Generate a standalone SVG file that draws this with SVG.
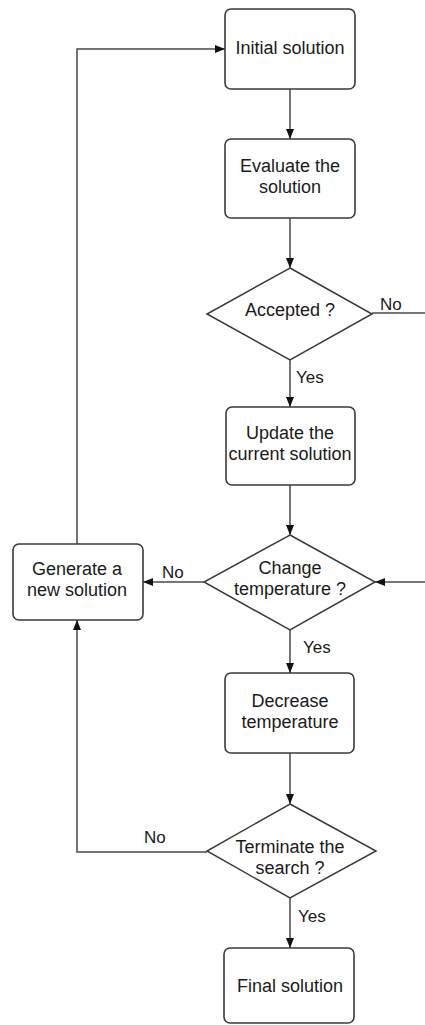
<svg xmlns="http://www.w3.org/2000/svg" width="425" height="1025" viewBox="0 0 425 1025">
<style>
.box{fill:#fff;stroke:#3a3a3a;stroke-width:1.6}
.dia{fill:#fff;stroke:#3a3a3a;stroke-width:1.5}
.t{font-family:"Liberation Sans",Arial,sans-serif;font-size:18px;fill:#1a1a1a;text-anchor:middle}
.l{font-family:"Liberation Sans",Arial,sans-serif;font-size:17px;fill:#1a1a1a}
.c{fill:none;stroke:#4a4a4a;stroke-width:1.5}
</style>
<defs>
<marker id="ah" markerUnits="userSpaceOnUse" markerWidth="10" markerHeight="10" viewBox="0 0 10 10" refX="10" refY="5" orient="auto">
<path d="M0,1 L10,5 L0,9 Z" fill="#111"/>
</marker>
</defs>
<rect width="425" height="1025" fill="#fff"/>
<g id="connectors">
<path class="c" d="M290,89 V139" marker-end="url(#ah)"/>
<path class="c" d="M290,218 V268" marker-end="url(#ah)"/>
<path class="c" d="M290,360 V407" marker-end="url(#ah)"/>
<path class="c" d="M372,313 H425"/>
<path class="c" d="M290,485 V535" marker-end="url(#ah)"/>
<path class="c" d="M425,582 H375" marker-end="url(#ah)"/>
<path class="c" d="M204,582 H143" marker-end="url(#ah)"/>
<path class="c" d="M290,630 V673" marker-end="url(#ah)"/>
<path class="c" d="M290,753 V804" marker-end="url(#ah)"/>
<path class="c" d="M207,852 H77 V620" marker-end="url(#ah)"/>
<path class="c" d="M77,544 V49 H225" marker-end="url(#ah)"/>
<path class="c" d="M290,898 V948" marker-end="url(#ah)"/>
<text class="l" x="380" y="310">No</text>
<text class="l" x="296" y="383">Yes</text>
<text class="l" x="162" y="578">No</text>
<text class="l" x="303" y="653">Yes</text>
<text class="l" x="144" y="843">No</text>
<text class="l" x="298" y="922">Yes</text>
</g>
<g id="initial">
<rect class="box" x="225" y="9" width="130" height="80" rx="6"/>
<text class="t" x="290" y="54">Initial solution</text>
</g>
<g id="evaluate">
<rect class="box" x="225" y="139" width="130" height="79" rx="6"/>
<text class="t" x="290" y="172">Evaluate the</text>
<text class="t" x="290" y="193">solution</text>
</g>
<g id="accepted">
<polygon class="dia" points="290,268 372,314 290,360 207,314"/>
<text class="t" x="290" y="316">Accepted ?</text>
</g>
<g id="update">
<rect class="box" x="226" y="407" width="129" height="78" rx="6"/>
<text class="t" x="290" y="439">Update the</text>
<text class="t" x="290" y="460">current solution</text>
</g>
<g id="change">
<polygon class="dia" points="290,535 375,582 290,630 204,582"/>
<text class="t" x="290" y="574">Change</text>
<text class="t" x="290" y="595">temperature ?</text>
</g>
<g id="generate">
<rect class="box" x="13" y="544" width="130" height="76" rx="6"/>
<text class="t" x="77" y="575">Generate a</text>
<text class="t" x="77" y="596">new solution</text>
</g>
<g id="decrease">
<rect class="box" x="225" y="673" width="129" height="80" rx="6"/>
<text class="t" x="290" y="707">Decrease</text>
<text class="t" x="290" y="728">temperature</text>
</g>
<g id="terminate">
<polygon class="dia" points="290,804 376,851 290,898 207,851"/>
<text class="t" x="290" y="853">Terminate the</text>
<text class="t" x="290" y="874">search ?</text>
</g>
<g id="final">
<rect class="box" x="224" y="948" width="130" height="75" rx="6"/>
<text class="t" x="290" y="992">Final solution</text>
</g>
</svg>
